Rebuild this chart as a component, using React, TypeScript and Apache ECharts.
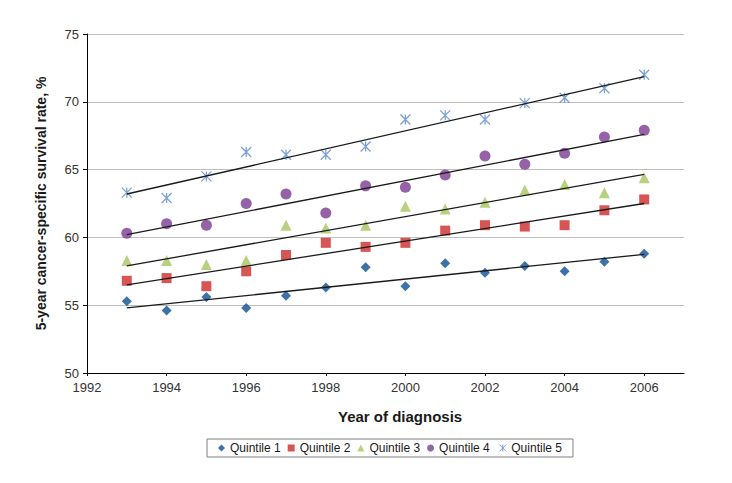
import React, { useEffect, useRef } from "react";
import * as echarts from "echarts";

const years = [1993, 1994, 1995, 1996, 1997, 1998, 1999, 2000, 2001, 2002, 2003, 2004, 2005, 2006];
const seriesNames = ["Quintile 1", "Quintile 2", "Quintile 3", "Quintile 4", "Quintile 5"];
const q1 = [55.3, 54.6, 55.6, 54.8, 55.7, 56.3, 57.8, 56.4, 58.1, 57.4, 57.9, 57.5, 58.2, 58.8];
const q2 = [56.8, 57.0, 56.4, 57.5, 58.7, 59.6, 59.3, 59.6, 60.5, 60.9, 60.8, 60.9, 62.0, 62.8];
const q3 = [58.3, 58.3, 58.0, 58.3, 60.9, 60.7, 60.9, 62.3, 62.1, 62.6, 63.5, 63.9, 63.3, 64.4];
const q4 = [60.3, 61.0, 60.9, 62.5, 63.2, 61.8, 63.8, 63.7, 64.6, 66.0, 65.4, 66.2, 67.4, 67.9];
const q5 = [63.3, 62.9, 64.5, 66.3, 66.1, 66.1, 66.7, 68.7, 69.0, 68.7, 69.9, 70.3, 71.0, 72.0];
// linear trend line endpoints (1993 and 2006)
const trendStart = [54.8, 56.5, 57.9, 60.2, 63.2];
const trendEnd = [58.75, 62.5, 64.65, 67.6, 71.85];
const xTicks = [1992, 1994, 1996, 1998, 2000, 2002, 2004, 2006];

const colors = ["#0b4f95", "#cc2a2a", "#a6c65c", "#7b3a91", "#5b8bcb"];
const starPath = "path://M0,0L10,10M10,0L0,10M5,0L5,10";
const symbols = ["diamond", "rect", "triangle", "circle", starPath];
const sizes = [10, 10, 11, 11, 10];
const values = [q1, q2, q3, q4, q5];

export default function App() {
  const ref = useRef<HTMLDivElement>(null);
  useEffect(() => {
    if (!ref.current) return;
    const chart = echarts.init(ref.current, null, { renderer: "svg" });
    const font = "'Liberation Sans', Arial, Helvetica, sans-serif";
    const scatterSeries = values.map((vals, i) => ({
      name: seriesNames[i],
      type: "scatter",
      symbol: symbols[i],
      symbolSize: sizes[i],
      data: years.map((y, j) => [y, vals[j]]),
      itemStyle:
        i === 4
          ? { color: "none", borderColor: colors[i], borderWidth: 1.3 }
          : { color: colors[i] },
      z: 3,
    }));
    const trendSeries = trendStart.map((s, i) => ({
      name: "trend" + (i + 1),
      type: "line",
      data: [
        [years[0], s],
        [years[years.length - 1], trendEnd[i]],
      ],
      symbol: "none",
      silent: true,
      lineStyle: { color: "#1a1a1a", width: 1.3 },
      z: 4,
    }));
    chart.setOption({
      animation: false,
      textStyle: { fontFamily: font },
      grid: { left: 87, right: 48, top: 34, bottom: 110, containLabel: false },
      xAxis: {
        type: "value",
        min: 1992,
        max: 2007,
        interval: 2,
        axisLine: { lineStyle: { color: "#000", width: 1 } },
        axisTick: { show: true, length: 3, customValues: xTicks, lineStyle: { color: "#000" } },
        splitLine: { show: false },
        axisLabel: {
          color: "#333",
          fontSize: 13,
          margin: 8,
          customValues: xTicks,
          formatter: (v: number) => (xTicks.includes(v) ? String(v) : ""),
        },
      },
      yAxis: {
        type: "value",
        min: 50,
        max: 75,
        interval: 5,
        name: "5-year cancer-specific survival rate, %",
        nameLocation: "middle",
        nameGap: 39,
        nameTextStyle: { fontWeight: "bold", fontSize: 14, color: "#1a1a1a" },
        axisLine: { show: true, lineStyle: { color: "#000", width: 1 } },
        axisTick: { show: true, length: 4, lineStyle: { color: "#000" } },
        splitLine: { lineStyle: { color: "#bfbfbf", width: 1 } },
        axisLabel: { color: "#333", fontSize: 13, margin: 8 },
      },
      legend: {
        data: seriesNames.map((n, i) => ({
          name: n,
          icon: symbols[i],
          itemStyle:
            i === 4
              ? { color: "none", borderColor: colors[i], borderWidth: 1 }
              : { color: colors[i] },
        })),
        left: 207,
        top: 439,
        itemWidth: 7,
        itemHeight: 7,
        itemGap: 7,
        padding: [3, 11],
        borderColor: "#808080",
        borderWidth: 1,
        textStyle: { fontSize: 12, color: "#1a1a1a", fontFamily: font },
      },
      graphic: [
        {
          type: "text",
          left: 338,
          top: 409,
          style: {
            text: "Year of diagnosis",
            font: "bold 15px 'Liberation Sans', Arial, sans-serif",
            fill: "#1a1a1a",
          },
        },
      ],
      series: [...trendSeries, ...scatterSeries],
    });
    return () => chart.dispose();
  }, []);
  return (
    <div
      ref={ref}
      style={{ position: "fixed", left: 0, top: 0, width: 732, height: 483, background: "#fff" }}
    />
  );
}
